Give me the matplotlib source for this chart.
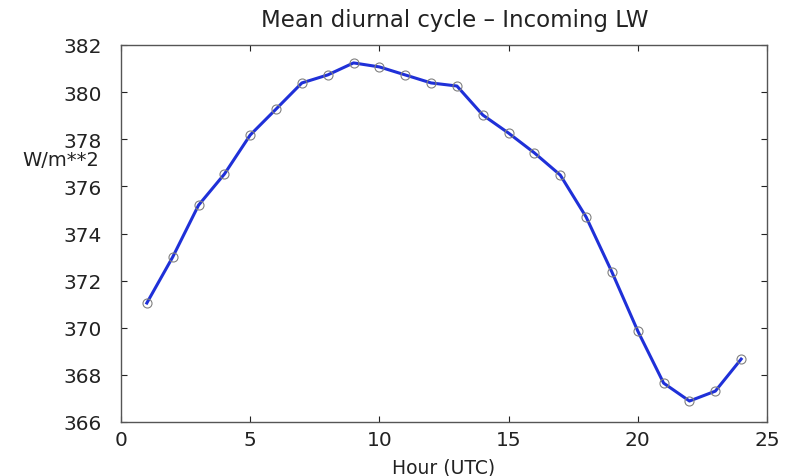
import matplotlib
matplotlib.use("Agg")
import matplotlib.pyplot as plt

hours = list(range(1, 25))
lw_in = [371.05, 373.0, 375.2, 376.52, 378.18, 379.28, 380.39, 380.73, 381.24, 381.07,
         380.73, 380.39, 380.26, 379.03, 378.26, 377.42, 376.48, 374.70, 372.36, 369.86,
         367.65, 366.89, 367.31, 368.67]
xticks = [0, 5, 10, 15, 20, 25]
yticks = [366, 368, 370, 372, 374, 376, 378, 380, 382]

plt.rcParams['font.family'] = ['DejaVu Sans']

W, H = 792, 477
fig = plt.figure(figsize=(W / 100, H / 100), dpi=100)
ax = fig.add_axes([121 / W, 1 - 423 / H, (767 - 121) / W, (423 - 46) / H])
ax.plot(hours, lw_in, color='#1f30d8', lw=2.2, zorder=2)
ax.plot(hours, lw_in, ls='none', marker='o', ms=6.5, mfc='none', mec='#808080', mew=0.8, zorder=3)
ax.set_xlim(0, 25)
ax.set_ylim(366, 382)
ax.set_xticks(xticks)
ax.set_yticks(yticks)
ax.tick_params(direction='in', top=True, right=True, length=4, width=0.8,
               labelsize=14.5, colors='#222222')
ax.tick_params(axis='y', pad=14)
ax.tick_params(axis='x', pad=6)
for s in ax.spines.values():
    s.set_color('#555555')
    s.set_linewidth(1.0)
fig.text(455 / W, 1 - 27 / H, 'Mean diurnal cycle \u2013 Incoming LW', fontsize=16.5,
         color='#222222', ha='center', va='baseline')
ax.set_xlabel('Hour (UTC)', fontsize=13.5, labelpad=6, color='#222222')
fig.text(22 / W, 1 - 160 / H, 'W/m**2', fontsize=14, color='#222222', va='center', ha='left')
fig.savefig('out.png', dpi=100, facecolor='white')
